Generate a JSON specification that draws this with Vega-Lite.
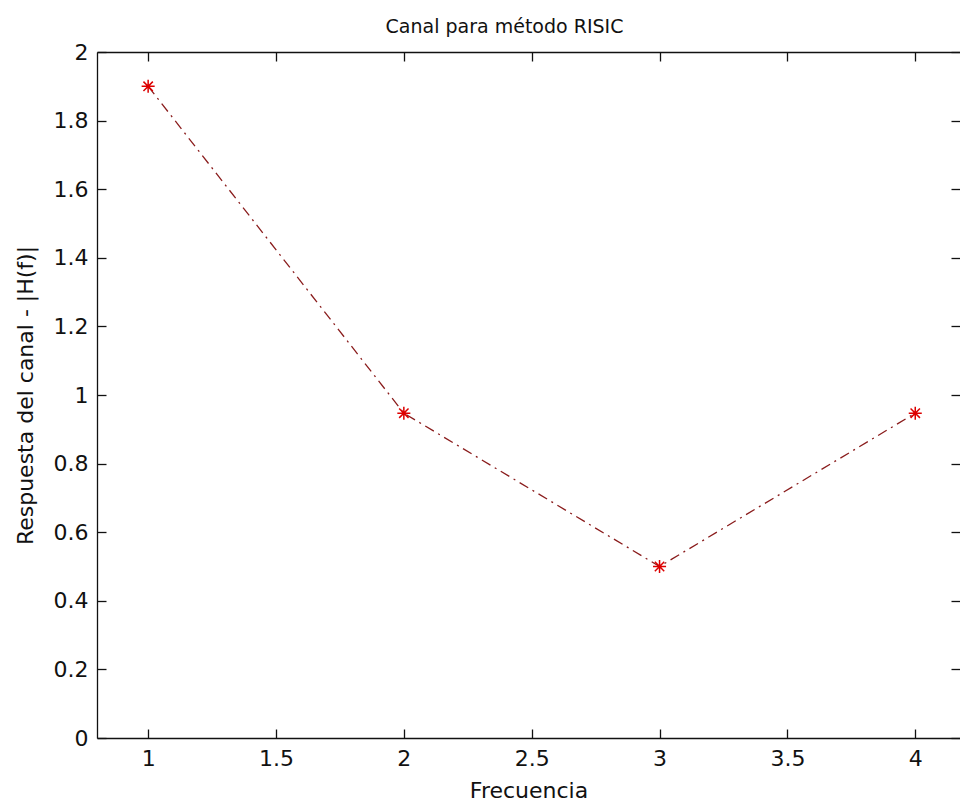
{
  "$schema": "https://vega.github.io/schema/vega-lite/v6.json",
  "autosize": "none",
  "width": 863,
  "height": 686,
  "padding": {"left": 97, "top": 52, "right": 0, "bottom": 69},
  "background": "white",
  "title": {"text": "Canal para método RISIC", "font": "DejaVu Sans", "fontSize": 19, "fontWeight": "normal", "color": "#111", "dx": -24, "offset": 4},
  "config": {
    "view": {"stroke": null},
    "axis": {"grid": false, "domainColor": "#111", "tickColor": "#111", "labelColor": "#111", "titleColor": "#111", "labelFont": "DejaVu Sans", "titleFont": "DejaVu Sans", "labelFontSize": 22, "titleFontSize": 22, "titleFontWeight": "normal", "tickSize": -9, "domainWidth": 1.3, "tickWidth": 1.3, "format": "~g", "labelFlush": false}
  },
  "data": {"values": [
    {"f": 1, "h": 1.9},
    {"f": 2, "h": 0.947},
    {"f": 3, "h": 0.5},
    {"f": 4, "h": 0.947}
  ]},
  "layer": [
    {"mark": {"type": "line", "color": "#8a1c1c", "strokeWidth": 1.3, "strokeDash": [10, 5, 2, 5]},
     "encoding": {
      "x": {"field": "f", "type": "quantitative", "scale": {"domain": [0.8, 4.175], "nice": false, "zero": false},
        "axis": {"title": "Frecuencia", "values": [1, 1.5, 2, 2.5, 3, 3.5, 4], "labelPadding": 19, "titlePadding": 11}},
      "y": {"field": "h", "type": "quantitative", "scale": {"domain": [0, 2], "nice": false},
        "axis": {"title": "Respuesta del canal - |H(f)|", "values": [0, 0.2, 0.4, 0.6, 0.8, 1, 1.2, 1.4, 1.6, 1.8, 2], "labelPadding": 18, "titlePadding": 16}}
     }},
    {"mark": {"type": "point", "shape": "M-1,0L1,0M0,-1L0,1M-0.72,-0.72L0.72,0.72M-0.72,0.72L0.72,-0.72", "filled": false, "stroke": "#dd0000", "strokeWidth": 1.5, "size": 170, "opacity": 1},
     "encoding": {
      "x": {"field": "f", "type": "quantitative", "scale": {"domain": [0.8, 4.175], "nice": false, "zero": false}, "axis": null},
      "y": {"field": "h", "type": "quantitative", "scale": {"domain": [0, 2], "nice": false}, "axis": null}
     }},
    {"mark": {"type": "point", "opacity": 0},
     "encoding": {
      "x": {"field": "f", "type": "quantitative", "scale": {"domain": [0.8, 4.175], "nice": false, "zero": false},
        "axis": {"orient": "top", "labels": false, "title": null, "domain": true, "values": [1, 1.5, 2, 2.5, 3, 3.5, 4]}},
      "y": {"field": "h", "type": "quantitative", "scale": {"domain": [0, 2], "nice": false},
        "axis": {"orient": "right", "labels": false, "title": null, "domain": false, "values": [0, 0.2, 0.4, 0.6, 0.8, 1, 1.2, 1.4, 1.6, 1.8, 2]}}
     }}
  ],
  "resolve": {"axis": {"x": "independent", "y": "independent"}}
}
